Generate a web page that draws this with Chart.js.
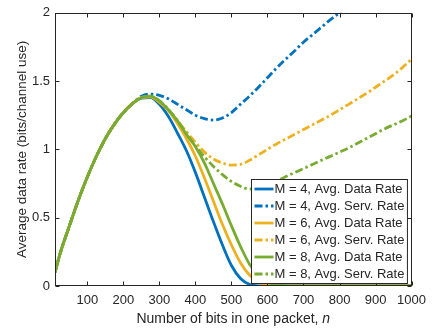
<!DOCTYPE html>
<html lang="en">
<head>
<meta charset="UTF-8" />
<title>Average data rate vs. packet length</title>
<script src="https://cdn.jsdelivr.net/npm/chart.js"></script>
<style>
  html, body { margin: 0; padding: 0; background: #fff; }
  #wrap { width: 433px; height: 335px; }
</style>
</head>
<body>
<div id="wrap"><canvas id="rate"></canvas></div>
<script>
  // packet length n (x axis)
  const nBits = [10, 25, 50, 75, 100, 125, 150, 175, 200, 225, 250,
    275, 300, 325, 350, 375, 400, 425, 450, 475, 500, 525, 550, 575, 600,
    625, 650, 675, 700, 725, 750, 775, 800, 825, 850, 875, 900, 925, 950, 975, 1000];

  // values
  const dataM4 = [0.10, 0.245, 0.44, 0.63, 0.80, 0.95, 1.08, 1.185, 1.27, 1.335, 1.375,
    1.38, 1.33, 1.24, 1.12, 0.99, 0.83, 0.65, 0.47, 0.30, 0.15, 0.055, 0.012, 0.001, 0,
    0, 0, 0, 0, 0, 0, 0, 0, 0, 0, 0, 0, 0, 0, 0, 0];
  const servM4 = [0.10, 0.245, 0.44, 0.63, 0.80, 0.95, 1.08, 1.185, 1.27, 1.335, 1.39,
    1.405, 1.395, 1.37, 1.33, 1.29, 1.25, 1.225, 1.215, 1.23, 1.27, 1.33, 1.39, 1.455, 1.525,
    1.595, 1.66, 1.72, 1.785, 1.84, 1.895, 1.95, 2.0, 2.05, 2.10, null, null, null, null, null, null];
  const dataM6 = [0.10, 0.245, 0.44, 0.63, 0.80, 0.95, 1.08, 1.185, 1.27, 1.335, 1.38,
    1.385, 1.345, 1.285, 1.19, 1.08, 0.95, 0.79, 0.62, 0.45, 0.30, 0.17, 0.08, 0.03, 0.008,
    0.001, 0, 0, 0, 0, 0, 0, 0, 0, 0, 0, 0, 0, 0, 0, 0];
  const servM6 = [0.10, 0.245, 0.44, 0.63, 0.80, 0.95, 1.08, 1.185, 1.27, 1.335, 1.38,
    1.385, 1.35, 1.29, 1.21, 1.13, 1.05, 0.98, 0.93, 0.90, 0.885, 0.89, 0.92, 0.96, 1.0,
    1.04, 1.075, 1.11, 1.145, 1.18, 1.215, 1.25, 1.29, 1.33, 1.37, 1.41, 1.455, 1.50, 1.545, 1.60, 1.66];
  const dataM8 = [0.10, 0.245, 0.44, 0.63, 0.80, 0.95, 1.08, 1.185, 1.27, 1.335, 1.38,
    1.39, 1.355, 1.29, 1.21, 1.11, 1.02, 0.90, 0.75, 0.60, 0.44, 0.29, 0.16, 0.08, 0.03,
    0.01, 0.002, 0, 0, 0, 0, 0, 0, 0, 0, 0, 0, 0, 0, 0, 0];
  const servM8 = [0.10, 0.245, 0.44, 0.63, 0.80, 0.95, 1.08, 1.185, 1.27, 1.335, 1.38,
    1.39, 1.355, 1.29, 1.21, 1.115, 1.025, 0.945, 0.875, 0.815, 0.765, 0.73, 0.71, 0.71, 0.73,
    0.765, 0.80, 0.83, 0.86, 0.89, 0.92, 0.95, 0.98, 1.01, 1.045, 1.08, 1.115, 1.15, 1.18, 1.21, 1.245];

  const seriesLabels = [
    "M = 4, Avg. Data Rate", "M = 4, Avg. Serv. Rate",
    "M = 6, Avg. Data Rate", "M = 6, Avg. Serv. Rate",
    "M = 8, Avg. Data Rate", "M = 8, Avg. Serv. Rate"
  ];
  const xTicks = [100, 200, 300, 400, 500, 600, 700, 800, 900, 1000];
  const yTicks = [0, 0.5, 1, 1.5, 2];
  const xTitle = "Number of bits in one packet, ";
  const xTitleVar = "n";
  const yTitle = "Average data rate (bits/channel use)";

  const blue = "#0072BD", orange = "#EDB120", green = "#77AC30";
  const ink = "#262626";
  const fontName = '"Liberation Sans", Arial, sans-serif';
  const dashDot = [8, 3, 2.5, 3];

  Chart.defaults.font.family = fontName;
  Chart.defaults.color = ink;

  function pts(values) {
    return nBits.map((n, i) => ({ x: n, y: values[i] }));
  }

  function line(label, values, color, dashed) {
    return {
      label: label,
      data: pts(values),
      borderColor: color,
      backgroundColor: color,
      borderWidth: 2.8,
      borderDash: dashed ? dashDot : [],
      pointRadius: 0,
      fill: false,
      cubicInterpolationMode: "monotone",
      spanGaps: false
    };
  }

  const datasets = [
    line(seriesLabels[0], dataM4, blue, false),
    line(seriesLabels[1], servM4, blue, true),
    line(seriesLabels[2], dataM6, orange, false),
    line(seriesLabels[3], servM6, orange, true),
    line(seriesLabels[4], dataM8, green, false),
    line(seriesLabels[5], servM8, green, true)
  ];
  // later series are drawn on top, like the original plot
  datasets.forEach((d, i) => d.order = datasets.length - i);

  // box, inward ticks, axis titles and an in-plot legend
  const frame = {
    id: "frame",
    afterDatasetsDraw(chart) {
      const { ctx, chartArea: a, scales: { x, y } } = chart;
      const L = Math.round(a.left) + 0.5, R = Math.round(a.right) - 0.5;
      const T = Math.round(a.top) + 0.5, B = Math.round(a.bottom) - 0.5;
      ctx.save();
      ctx.strokeStyle = ink;
      ctx.lineWidth = 1;
      ctx.setLineDash([]);
      ctx.strokeRect(L, T, R - L, B - T);
      const tl = 4;
      ctx.beginPath();
      xTicks.forEach(v => {
        const px = Math.round(x.getPixelForValue(v)) + 0.5;
        ctx.moveTo(px, B); ctx.lineTo(px, B - tl);
        ctx.moveTo(px, T); ctx.lineTo(px, T + tl);
      });
      yTicks.forEach(v => {
        const py = Math.round(y.getPixelForValue(v)) + 0.5;
        ctx.moveTo(L, py); ctx.lineTo(L + tl, py);
        ctx.moveTo(R, py); ctx.lineTo(R - tl, py);
      });
      ctx.stroke();

      // legend
      ctx.font = "13px " + fontName;
      const rowH = 17;
      const textW = Math.max(...chart.data.datasets.map(d => ctx.measureText(d.label).width));
      const boxW = 23 + textW + 3;
      const boxH = rowH * chart.data.datasets.length + 2;
      const bx = Math.round(a.right - 5 - boxW) + 0.5;
      const by = Math.round(a.bottom - 3 - boxH) + 0.5;
      ctx.fillStyle = "#fff";
      ctx.fillRect(bx, by, boxW, boxH);
      ctx.strokeStyle = ink;
      ctx.lineWidth = 1;
      ctx.strokeRect(bx, by, boxW, boxH);
      ctx.textBaseline = "middle";
      ctx.textAlign = "left";
      chart.data.datasets.forEach((d, i) => {
        const cy = by + 1 + rowH * i + rowH / 2;
        ctx.strokeStyle = d.borderColor;
        ctx.lineWidth = d.borderWidth;
        ctx.setLineDash(d.borderDash);
        ctx.beginPath();
        ctx.moveTo(bx + 3, cy);
        ctx.lineTo(bx + 22, cy);
        ctx.stroke();
        ctx.fillStyle = ink;
        ctx.fillText(d.label, bx + 23, cy);
      });
      ctx.restore();
    },
    afterDraw(chart) {
      const { ctx, chartArea: a } = chart;
      ctx.save();
      ctx.fillStyle = ink;
      ctx.textBaseline = "middle";
      // x title, variable in italics
      const normal = "14px " + fontName, italic = "italic 14px " + fontName;
      ctx.font = normal;
      const w1 = ctx.measureText(xTitle).width;
      ctx.font = italic;
      const w2 = ctx.measureText(xTitleVar).width;
      const x0 = (a.left + a.right) / 2 - (w1 + w2) / 2;
      ctx.textAlign = "left";
      ctx.font = normal;
      ctx.fillText(xTitle, x0, 319);
      ctx.font = italic;
      ctx.fillText(xTitleVar, x0 + w1, 319);
      // y title
      ctx.font = "13.5px " + fontName;
      ctx.textAlign = "center";
      ctx.translate(22, (a.top + a.bottom) / 2);
      ctx.rotate(-Math.PI / 2);
      ctx.fillText(yTitle, 0, 0);
      ctx.restore();
    }
  };

  new Chart(document.getElementById("rate"), {
    type: "line",
    data: { datasets: datasets },
    options: {
      responsive: true,
      maintainAspectRatio: false,
      animation: false,
      layout: { padding: { top: 7, right: 20, bottom: 0, left: 0 } },
      plugins: {
        legend: { display: false },
        tooltip: { enabled: false }
      },
      scales: {
        x: {
          type: "linear",
          min: 10,
          max: 1000,
          grid: { display: false, drawTicks: false },
          border: { display: false },
          afterBuildTicks: s => { s.ticks = xTicks.map(v => ({ value: v })); },
          afterFit: s => { s.height = 49; },
          ticks: {
            padding: 7,
            maxRotation: 0,
            font: { size: 13 },
            color: ink,
            callback: v => String(v)
          }
        },
        y: {
          min: 0,
          max: 2,
          grid: { display: false, drawTicks: false },
          border: { display: false },
          afterBuildTicks: s => { s.ticks = yTicks.map(v => ({ value: v })); },
          afterFit: s => { s.width = 55; },
          ticks: {
            padding: 5,
            font: { size: 13 },
            color: ink,
            callback: v => String(v)
          }
        }
      }
    },
    plugins: [frame]
  });
</script>
</body>
</html>
